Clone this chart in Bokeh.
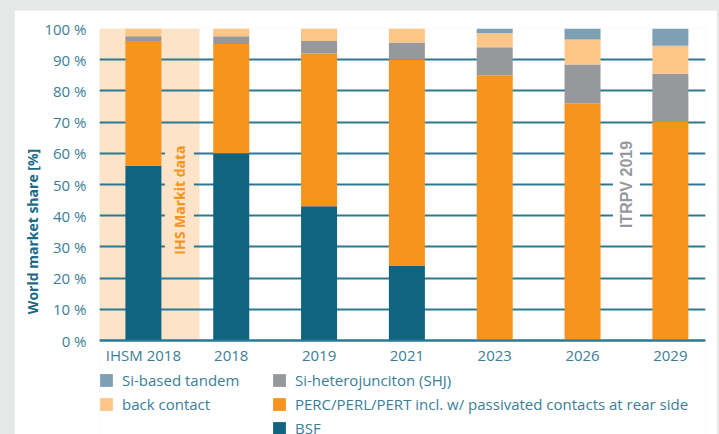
import math
from bokeh.plotting import figure
from bokeh.models import (FixedTicker, PrintfTickFormatter, Label, Legend, LegendItem,
                          GlobalInlineStyleSheet, ColumnDataSource)
from bokeh.embed import file_html
from bokeh.resources import INLINE

# ---- data ----
categories = ["IHSM 2018", "2018", "2019", "2021", "2023", "2026", "2029"]
bsf = [56, 60, 43, 24, 0, 0, 0]
perc = [40, 35, 49, 66, 85, 76, 70]
shj = [1.5, 2.5, 4, 5.5, 9, 12.5, 15.5]
back_contact = [2.5, 2.5, 4, 4.5, 4.5, 8, 9]
tandem = [0, 0, 0, 0, 1.5, 3.5, 5.5]
series_names = ["BSF", "PERC/PERL/PERT incl. w/ passivated contacts at rear side",
                "Si-heterojunciton (SHJ)", "back contact", "Si-based tandem"]
y_ticks = [0, 10, 20, 30, 40, 50, 60, 70, 80, 90, 100]

# ---- styles ----
C_BSF = "#10647f"
C_PERC = "#f7941d"
C_SHJ = "#97989c"
C_BACK = "#fdc689"
C_TAND = "#7f9fb4"
C_BAND = "#fde4c8"
C_GRID = "#2b7895"
C_TEXT = "#3a7e98"
C_TITLE = "#1b6a86"
FONT = "Open Sans"
colors = [C_BSF, C_PERC, C_SHJ, C_BACK, C_TAND]

xs = list(range(len(categories)))
src = ColumnDataSource(dict(x=xs, bsf=bsf, perc=perc, shj=shj, back=back_contact, tandem=tandem))

# frame spans down to the bottom so the legend area lies inside it;
# 0..100 % occupy the upper 312 px of the 406 px tall frame
y_low = -100 * 94 / 312
p = figure(width=703, height=424, output_backend="svg", toolbar_location=None,
           x_range=(-0.5, 6.4), y_range=(y_low, 100),
           min_border_left=85, min_border_right=12, min_border_top=18, min_border_bottom=0,
           margin=(10, 0, 0, 14))
p.stylesheets = [GlobalInlineStyleSheet(css="body { background-color: #e6e8e7; }")]
p.outline_line_color = None
p.background_fill_color = "white"
p.border_fill_color = "white"

# shaded band for IHS Markit data
band = p.quad(left=[-0.5], right=[0.64], bottom=[0], top=[100], fill_color=C_BAND, line_color=None)
band.level = "image"

rs = p.vbar_stack(["bsf", "perc", "shj", "back", "tandem"], x="x", width=0.41, source=src,
                  color=colors, line_color=None)

# grid
p.xgrid.visible = False
p.ygrid.ticker = FixedTicker(ticks=y_ticks)
p.ygrid.grid_line_color = C_GRID
p.ygrid.grid_line_width = 2

# y axis
p.yaxis.ticker = FixedTicker(ticks=y_ticks)
p.yaxis.bounds = (0, 100)
p.yaxis.formatter = PrintfTickFormatter(format="%d %%")
p.yaxis.axis_line_color = None
p.yaxis.major_tick_line_color = None
p.yaxis.minor_tick_line_color = None
p.yaxis.major_label_standoff = 7
p.yaxis.major_label_text_font = FONT
p.yaxis.major_label_text_font_size = "15px"
p.yaxis.major_label_text_color = C_TEXT
p.yaxis.axis_label = "World market share [%]"
p.yaxis.axis_label_text_font = FONT
p.yaxis.axis_label_text_font_style = "bold"
p.yaxis.axis_label_text_font_size = "14px"
p.yaxis.axis_label_text_color = C_TITLE
p.yaxis.axis_label_standoff = -1

# x axis, placed at 0 %
p.xaxis.fixed_location = 0
p.xaxis.ticker = FixedTicker(ticks=xs)
p.xaxis.major_label_overrides = {i: c for i, c in zip(xs, categories)}
p.xaxis.axis_line_color = C_GRID
p.xaxis.axis_line_width = 2
p.xaxis.major_tick_line_color = None
p.xaxis.minor_tick_line_color = None
p.xaxis.major_label_standoff = -2
p.xaxis.major_label_text_font = FONT
p.xaxis.major_label_text_font_size = "15px"
p.xaxis.major_label_text_color = C_TEXT

# annotations
p.add_layout(Label(x=0.41, y=45, text="IHS Markit data", angle=math.pi / 2,
                   text_align="center", text_baseline="middle",
                   text_font=FONT, text_font_style="bold", text_font_size="14px",
                   text_color=C_PERC, background_fill_color=C_BAND, padding=5))
p.add_layout(Label(x=5.5, y=50, text="ITRPV 2019", angle=math.pi / 2,
                   text_align="center", text_baseline="middle",
                   text_font="Liberation Sans", text_font_style="bold", text_font_size="16px",
                   text_color=C_SHJ, background_fill_color="white", padding=5))

# legend (two columns, filled column by column; an empty slot ends column 1)
r_bsf, r_perc, r_shj, r_back, r_tand = rs
blank = p.scatter(x=[], y=[], size=0, fill_alpha=0, line_alpha=0)
items = [LegendItem(label=series_names[4], renderers=[r_tand]),
         LegendItem(label=series_names[3], renderers=[r_back]),
         LegendItem(label=" ", renderers=[blank]),
         LegendItem(label=series_names[2], renderers=[r_shj]),
         LegendItem(label=series_names[1], renderers=[r_perc]),
         LegendItem(label=series_names[0], renderers=[r_bsf])]
leg = Legend(items=items, location=(-1, -4), orientation="vertical", nrows=3,
             padding=0, margin=0, spacing=4,
             glyph_width=16, glyph_height=16, label_height=16, label_width=145,
             label_standoff=8,
             label_text_font=FONT, label_text_font_size="15px", label_text_color=C_TEXT,
             background_fill_alpha=0, border_line_color=None)
p.add_layout(leg, "center")

open("out.html", "w").write(file_html(p, INLINE))
